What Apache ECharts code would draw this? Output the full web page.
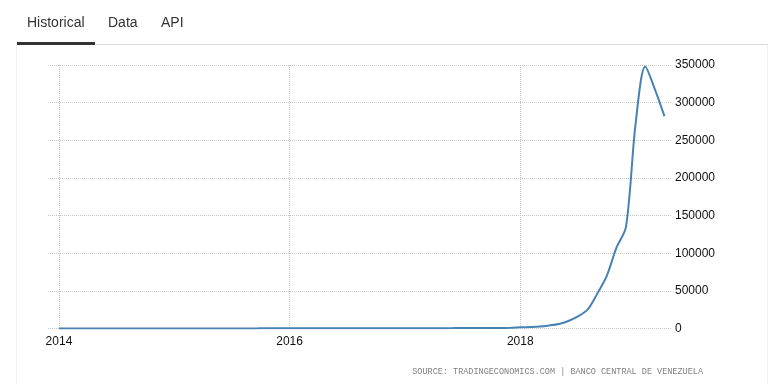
<!DOCTYPE html>
<html>
<head>
<meta charset="utf-8">
<script src="https://cdn.jsdelivr.net/npm/echarts@6/dist/echarts.min.js"></script>
<style>
html,body{margin:0;padding:0;background:#fff;}
#chart{width:775px;height:384px;}
</style>
</head>
<body>
<div id="chart"></div>
<script>
// Months (YYYY-MM) and year-over-year values
var months = [
 '2014-01','2014-02','2014-03','2014-04','2014-05','2014-06','2014-07','2014-08','2014-09','2014-10','2014-11','2014-12',
 '2015-01','2015-02','2015-03','2015-04','2015-05','2015-06','2015-07','2015-08','2015-09','2015-10','2015-11','2015-12',
 '2016-01','2016-02','2016-03','2016-04','2016-05','2016-06','2016-07','2016-08','2016-09','2016-10','2016-11','2016-12',
 '2017-01','2017-02','2017-03','2017-04','2017-05','2017-06','2017-07','2017-08','2017-09','2017-10','2017-11','2017-12',
 '2018-01','2018-02','2018-03','2018-04','2018-05','2018-06','2018-07','2018-08','2018-09','2018-10','2018-11','2018-12',
 '2019-01','2019-02','2019-03','2019-04'
];
var values = [
 56.3, 57.3, 59.4, 61.5, 60.9, 60.9, 63.4, 63.4, 63.6, 63.7, 63.6, 68.5,
 68.6, 69.0, 96.0, 100.0, 110.0, 121.0, 135.0, 150.0, 160.0, 170.0, 175.0, 180.9,
 190, 200, 210, 225, 240, 255, 260, 265, 268, 270, 272, 274.4,
 300, 330, 360, 400, 450, 500, 560, 620, 690, 750, 810, 862.6,
 1600, 2000, 2600, 4000, 6000, 10000, 16000, 25000, 46000, 70000, 107000, 135000,
 272000, 348000, 318000, 282000
];
var xTickLabels = [2014, 2016, 2018];
var yTicks = [0, 50000, 100000, 150000, 200000, 250000, 300000, 350000];
var tabs = ['Historical', 'Data', 'API'];
var sourceText = 'SOURCE: TRADINGECONOMICS.COM | BANCO CENTRAL DE VENEZUELA';

function toYear(m) {
  var p = m.split('-');
  return Number(p[0]) + (Number(p[1]) - 1) / 12;
}
var seriesData = months.map(function (m, i) { return [toYear(m), values[i]]; });

var chart = echarts.init(document.getElementById('chart'), null, {renderer: 'canvas'});
var font = "'Liberation Sans', Arial, sans-serif";

var option = {
  animation: false,
  backgroundColor: '#fff',
  grid: {left: 48, right: 104, top: 65, bottom: 55.5, containLabel: false},
  xAxis: {
    type: 'value',
    min: 2013.905,
    max: 2019.307,
    axisLine: {show: false},
    axisTick: {show: false, customValues: xTickLabels},
    axisLabel: {
      customValues: xTickLabels,
      formatter: function (v) { return String(Math.round(v)); },
      color: '#111', fontSize: 12, fontFamily: font, margin: 7
    },
    splitLine: {show: true, lineStyle: {type: 'dotted', color: '#c8c8c8', width: 1}}
  },
  yAxis: {
    type: 'value',
    position: 'right',
    min: yTicks[0],
    max: yTicks[yTicks.length - 1],
    interval: yTicks[1] - yTicks[0],
    axisLine: {show: false},
    axisTick: {show: false},
    axisLabel: {
      color: '#111', fontSize: 12, fontFamily: font, margin: 4,
      formatter: function (v) { return String(v); }
    },
    splitLine: {show: true, lineStyle: {type: 'dotted', color: '#c8c8c8', width: 1}}
  },
  series: [{
    type: 'line',
    data: seriesData,
    showSymbol: false,
    smooth: 0.3,
    lineStyle: {color: '#4682b4', width: 2},
    itemStyle: {color: '#4682b4'}
  }],
  graphic: [
    {type: 'rect', shape: {x: 17, y: 44, width: 751, height: 1}, style: {fill: '#dddddd'}, silent: true},
    {type: 'rect', shape: {x: 17, y: 42, width: 78, height: 3}, style: {fill: '#333333'}, silent: true},
    {type: 'rect', shape: {x: 16, y: 45, width: 1, height: 339}, style: {fill: '#f2f2f2'}, silent: true},
    {type: 'rect', shape: {x: 767, y: 45, width: 1, height: 339}, style: {fill: '#f2f2f2'}, silent: true},
    {type: 'text', left: 27, top: 16, style: {text: tabs[0], fill: '#333', font: '14px ' + font}},
    {type: 'text', left: 108, top: 16, style: {text: tabs[1], fill: '#333', font: '14px ' + font}},
    {type: 'text', left: 161, top: 16, style: {text: tabs[2], fill: '#333', font: '14px ' + font}},
    {type: 'text', right: 72, top: 367, style: {text: sourceText, fill: '#808080', font: "8.5px 'Liberation Mono', 'DejaVu Sans Mono', monospace"}}
  ]
};
chart.setOption(option);
</script>
</body>
</html>
